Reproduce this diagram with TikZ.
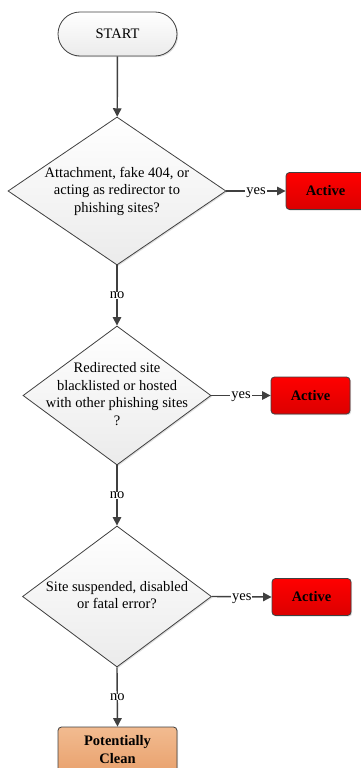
\documentclass[tikz,border=0pt]{standalone}
\usepackage{fontspec}
\setmainfont{Liberation Serif}
\usetikzlibrary{shapes.geometric,arrows.meta,shadows}
\definecolor{linegray}{HTML}{404040}
\definecolor{boxgray}{HTML}{EBEBEB}
\definecolor{activetop}{HTML}{FF0000}
\definecolor{activebot}{HTML}{DC0000}
\definecolor{cleantop}{HTML}{F2BB90}
\definecolor{cleanbot}{HTML}{E9A26E}
% question text, kept out of the diamond's size
\newcommand{\qbox}[1]{\raisebox{-3.6pt}[0pt][0pt]{\makebox[0pt]{\begin{tabular}{@{}c@{}}#1\end{tabular}}}}
\tikzset{
  base/.style={draw=linegray, line width=0.8pt, font=\fontsize{14.5}{17.5}\selectfont,
    drop shadow={shadow xshift=1.2pt, shadow yshift=-1.2pt, opacity=0.25}},
  terminal/.style={base, rectangle, rounded corners=22pt, minimum width=119pt, minimum height=44pt,
    top color=white, bottom color=boxgray},
  decision/.style={base, diamond, inner sep=0pt, top color=white, bottom color=boxgray},
  verdict/.style={base, rectangle, rounded corners=3.5pt, minimum width=79pt, minimum height=37pt,
    align=center, font=\fontsize{14.5}{17.5}\selectfont\bfseries, top color=activetop, bottom color=activebot},
  clean/.style={verdict, minimum width=119pt, minimum height=45pt, top color=cleantop, bottom color=cleanbot},
  flow/.style={draw=linegray, line width=1.4pt, -{Triangle[length=8.5pt,width=8.5pt]}},
  answer/.style={fill=white, anchor=center, inner xsep=1pt, inner ysep=0pt,
    text height=6.6pt, text depth=0pt, font=\fontsize{14.5}{17.5}\selectfont}
}
\begin{document}
\begin{tikzpicture}[x=1pt,y=-1pt]
  \useasboundingbox (0,0) rectangle (360,768);
  \node[terminal] (start) at (117.5,34) {START};
  \node[decision, minimum width=218pt, minimum height=148pt] (q1) at (117,191)
    {\qbox{Attachment, fake 404, or\\acting as redirector to\\phishing sites?}};
  \node[verdict] (act1) at (325.5,191) {Active};
  \node[decision, minimum width=188pt, minimum height=139pt] (q2) at (117,395.5)
    {\qbox{Redirected site\\blacklisted or hosted\\with other phishing sites\\?}};
  \node[verdict] (act2) at (310.5,395.5) {Active};
  \node[decision, minimum width=189pt, minimum height=141pt] (q3) at (117,596.5)
    {\qbox{Site suspended, disabled\\or fatal error?}};
  \node[verdict] (act3) at (311.5,597) {Active};
  \node[clean] (clean) at (117.5,749.5) {Potentially\\Clean};

  \draw[flow] (start) -- (q1);
  \draw[flow] (q1.east) -- node[answer] {yes} (act1.west);
  \draw[flow] (q1.south) -- node[answer] {no} (q2.north);
  \draw[flow] (q2.east) -- node[answer] {yes} (act2.west);
  \draw[flow] (q2.south) -- node[answer] {no} (q3.north);
  \draw[flow] (q3.east) -- node[answer] {yes} (act3.west);
  \draw[flow] (q3.south) -- node[answer] {no} (clean.north);
\end{tikzpicture}
\end{document}
